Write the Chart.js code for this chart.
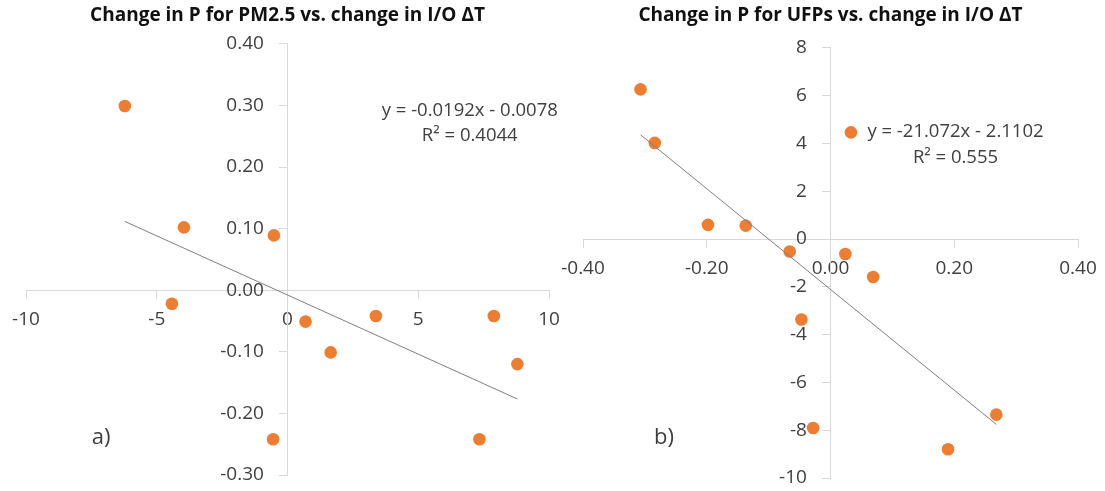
<!DOCTYPE html>
<html>
<head>
<meta charset="utf-8">
<script src="https://cdn.jsdelivr.net/npm/chart.js@4.4.1/dist/chart.umd.min.js"></script>
<style>
  html, body { margin: 0; background: #fff; overflow: hidden; width: 1105px; height: 491px; }
  canvas { position: absolute; top: 0; }
  #pmChart { left: 0; }
  #ufpChart { left: 551px; }
</style>
</head>
<body>
<canvas id="pmChart" width="570" height="491"></canvas>
<canvas id="ufpChart" width="556" height="491"></canvas>
<script>
// a) PM2.5: change in I/O dT (x) vs change in P (y)
const pmDeltaT = [-6.22, -3.96, -4.42, -0.52, -0.55, 0.69, 1.65, 3.38, 7.89, 7.34, 8.79];
const pmDeltaP = [0.299, 0.102, -0.022, 0.089, -0.242, -0.051, -0.101, -0.042, -0.042, -0.242, -0.120];
const pmSlope = -0.0192;
const pmIntercept = -0.0078;
const pmEquation = ["y = -0.0192x - 0.0078", "R² = 0.4044"];

// b) UFPs
const ufpDeltaT = [-0.307, -0.284, -0.198, -0.137, -0.066, 0.024, 0.033, 0.069, -0.047, -0.028, 0.190, 0.268];
const ufpDeltaP = [6.26, 4.02, 0.59, 0.56, -0.52, -0.63, 4.46, -1.59, -3.37, -7.91, -8.80, -7.35];
const ufpSlope = -21.072;
const ufpIntercept = -2.1102;
const ufpEquation = ["y = -21.072x - 2.1102", "R² = 0.555"];

Chart.defaults.font.family = "'Open Sans', sans-serif";

const ORANGE = "#ed7d31";
const AXIS = "#d9d9d9";
const LABEL = "#404040";
// centred y axes ignore ticks.padding, so pad the label text instead
const Y_GAP = "\u2007\u2007\u200A";

// draws equation + panel letter, anchored in data units
const notesPlugin = {
  id: "notes",
  afterDatasetsDraw(chart, args, opts) {
    const ctx = chart.ctx;
    const xs = chart.scales.x, ys = chart.scales.y;
    ctx.save();
    ctx.textAlign = "center";
    ctx.textBaseline = "middle";
    opts.items.forEach(item => {
      ctx.font = item.font;
      ctx.fillStyle = item.color || LABEL;
      ctx.fillText(item.text, xs.getPixelForValue(item.x), ys.getPixelForValue(item.y));
    });
    ctx.restore();
  }
};

function trendPoints(xs, slope, intercept) {
  const lo = Math.min(...xs), hi = Math.max(...xs);
  return [{ x: lo, y: slope * lo + intercept }, { x: hi, y: slope * hi + intercept }];
}

function makeChart(el, cfg) {
  return new Chart(el, {
    type: "scatter",
    data: {
      datasets: [
        {
          data: trendPoints(cfg.xs, cfg.slope, cfg.intercept),
          showLine: true,
          borderColor: "#7f7f7f",
          borderWidth: 1,
          pointRadius: 0,
          order: 0
        },
        {
          data: cfg.xs.map((x, i) => ({ x, y: cfg.ys[i] })),
          backgroundColor: ORANGE,
          borderColor: ORANGE,
          borderWidth: 0,
          pointRadius: 6.3,
          order: 1
        }
      ]
    },
    options: {
      responsive: false,
      animation: false,
      layout: { padding: cfg.padding },
      plugins: {
        legend: { display: false },
        tooltip: { enabled: false },
        title: {
          display: true,
          text: cfg.title,
          color: "#111",
          font: { size: 19, weight: "bold" },
          padding: cfg.titlePad
        },
        notes: { items: cfg.notes }
      },
      scales: {
        x: {
          type: "linear",
          position: { y: 0 },
          min: cfg.xRange[0], max: cfg.xRange[1],
          grid: { drawOnChartArea: false, tickLength: 8, color: AXIS },
          border: { color: AXIS },
          ticks: {
            stepSize: cfg.xStep, color: LABEL, font: { size: 19 }, padding: 10,
            maxRotation: 0, autoSkip: false,
            callback: v => v.toFixed(cfg.xDigits)
          }
        },
        y: {
          type: "linear",
          position: { x: 0 },
          min: cfg.yRange[0], max: cfg.yRange[1],
          grid: { drawOnChartArea: false, tickLength: 8, color: AXIS },
          border: { color: AXIS },
          ticks: {
            stepSize: cfg.yStep, color: LABEL, font: { size: 19 }, padding: 0,
            autoSkip: false,
            callback: v => v.toFixed(cfg.yDigits) + Y_GAP
          }
        }
      }
    },
    plugins: [notesPlugin]
  });
}

makeChart(document.getElementById("pmChart"), {
  title: "Change in P for PM2.5 vs. change in I/O ΔT",
  xs: pmDeltaT, ys: pmDeltaP, slope: pmSlope, intercept: pmIntercept,
  xRange: [-10, 10], xStep: 5, xDigits: 0,
  yRange: [-0.3, 0.4], yStep: 0.1, yDigits: 2,
  padding: { left: 26, right: 21, top: 0, bottom: 16 },
  titlePad: { top: 4, bottom: 17 },
  notes: [
    { text: pmEquation[0], x: 6.97, y: 0.292, font: "18.5px 'Open Sans'" },
    { text: pmEquation[1], x: 6.97, y: 0.250, font: "18.5px 'Open Sans'" },
    { text: "a)", x: -7.13, y: -0.24, font: "22px 'Open Sans'" }
  ]
});

makeChart(document.getElementById("ufpChart"), {
  title: "Change in P for UFPs vs. change in I/O ΔT",
  xs: ufpDeltaT, ys: ufpDeltaP, slope: ufpSlope, intercept: ufpIntercept,
  xRange: [-0.4, 0.4], xStep: 0.2, xDigits: 2,
  yRange: [-10, 8], yStep: 2, yDigits: 0,
  padding: { left: 32, right: 29, top: 0, bottom: 13 },
  titlePad: { top: 4, bottom: 21 },
  notes: [
    { text: ufpEquation[0], x: 0.202, y: 4.48, font: "18.5px 'Open Sans'" },
    { text: ufpEquation[1], x: 0.202, y: 3.39, font: "18.5px 'Open Sans'" },
    { text: "b)", x: -0.269, y: -8.33, font: "22px 'Open Sans'" }
  ]
});
</script>
</body>
</html>
